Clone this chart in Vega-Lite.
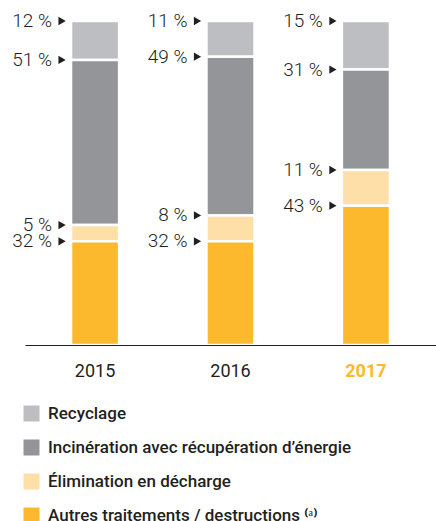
{
  "$schema": "https://vega.github.io/schema/vega-lite/v6.json",
  "autosize": "none",
  "width": 411,
  "height": 324,
  "padding": {"left": 25, "top": 21, "right": 0, "bottom": 176},
  "background": "white",
  "config": {"view": {"stroke": null}, "font": "Roboto"},
  "data": {
    "values": [
      {"year": "2015", "type": "Recyclage", "value": 12},
      {"year": "2015", "type": "Incinération avec récupération d’énergie", "value": 51},
      {"year": "2015", "type": "Élimination en décharge", "value": 5},
      {"year": "2015", "type": "Autres traitements / destructions ⁽ᵃ⁾", "value": 32},
      {"year": "2016", "type": "Recyclage", "value": 11},
      {"year": "2016", "type": "Incinération avec récupération d’énergie", "value": 49},
      {"year": "2016", "type": "Élimination en décharge", "value": 8},
      {"year": "2016", "type": "Autres traitements / destructions ⁽ᵃ⁾", "value": 32},
      {"year": "2017", "type": "Recyclage", "value": 15},
      {"year": "2017", "type": "Incinération avec récupération d’énergie", "value": 31},
      {"year": "2017", "type": "Élimination en décharge", "value": 11},
      {"year": "2017", "type": "Autres traitements / destructions ⁽ᵃ⁾", "value": 43}
    ]
  },
  "transform": [
    {"calculate": "indexof(['Autres traitements / destructions ⁽ᵃ⁾', 'Élimination en décharge', 'Incinération avec récupération d’énergie', 'Recyclage'], datum.type)", "as": "ord"},
    {"calculate": "datum.value + ' %'", "as": "label"},
    {"stack": "value", "groupby": ["year"], "sort": [{"field": "ord", "order": "ascending"}], "as": ["v0", "v1"]}
  ],
  "encoding": {
    "x": {
      "field": "year", "type": "nominal",
      "scale": {"paddingInner": 0.645, "paddingOuter": 0.34},
      "axis": {
        "title": null, "labelAngle": 0, "ticks": false, "domainColor": "#231f20", "domainWidth": 1.2,
        "labelPadding": 17, "labelFontSize": 18, "labelFont": "Roboto",
        "labelFontWeight": {"condition": {"test": "datum.value == '2017'", "value": "bold"}, "value": "normal"},
        "labelColor": {"condition": {"test": "datum.value == '2017'", "value": "#FBB92F"}, "value": "#231f20"},
        "zindex": 1
      }
    },
    "y": {"field": "v1", "type": "quantitative", "scale": {"domain": [0, 100]}, "axis": null}
  },
  "layer": [
    {
      "mark": {"type": "bar", "stroke": "white", "strokeWidth": 2.5},
      "encoding": {
        "y": {"field": "v0", "type": "quantitative", "scale": {"domain": [0, 100]}, "axis": null},
        "y2": {"field": "v1"},
        "color": {
          "field": "type", "type": "nominal",
          "scale": {
            "domain": ["Recyclage", "Incinération avec récupération d’énergie", "Élimination en décharge", "Autres traitements / destructions ⁽ᵃ⁾"],
            "range": ["#BDBEC2", "#939598", "#FFDFA8", "#FDB92E"]
          },
          "legend": {
            "title": null, "orient": "none", "legendX": -2, "legendY": 384,
            "symbolType": "square", "symbolSize": 256, "symbolStrokeWidth": 0, "symbolOpacity": 1,
            "labelFontSize": 17, "labelFont": "Roboto", "labelFontWeight": 500, "labelColor": "#231f20",
            "labelOffset": 8, "rowPadding": 16, "labelLimit": 500
          }
        }
      }
    },
    {
      "mark": {"type": "text", "align": "right", "baseline": "middle", "dx": -43, "fontSize": 19, "font": "Roboto", "fontWeight": 300, "color": "#231f20"},
      "encoding": {"text": {"field": "label"}}
    },
    {
      "mark": {"type": "point", "shape": "triangle-right", "filled": true, "size": 70, "opacity": 1, "color": "#231f20", "xOffset": -33},
      "encoding": {}
    }
  ]
}
